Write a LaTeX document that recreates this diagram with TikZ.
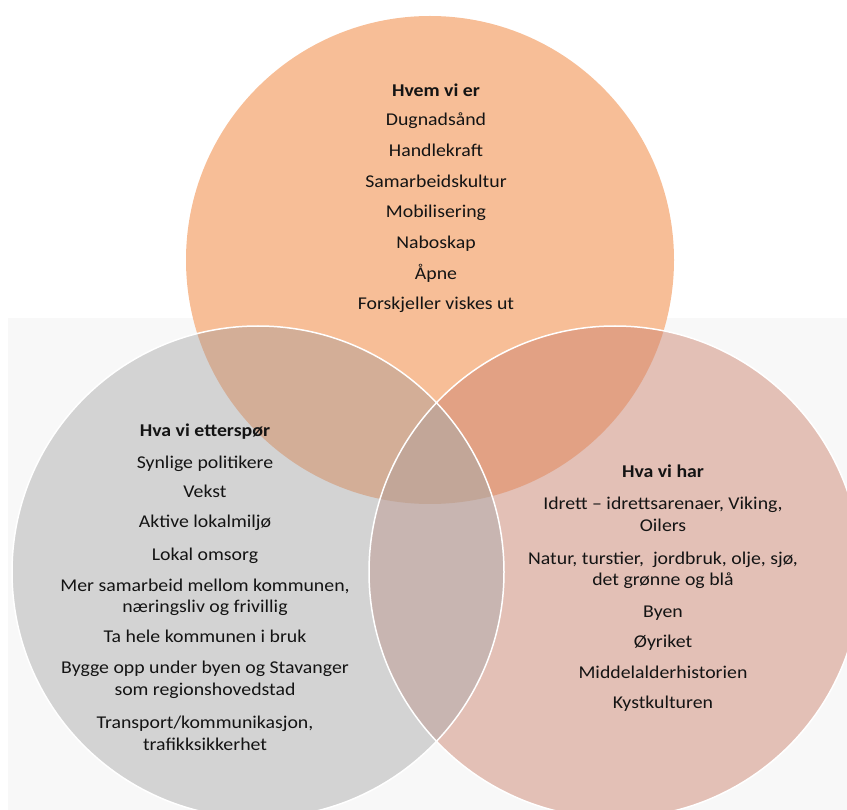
\documentclass[tikz,border=0pt]{standalone}
\usepackage{fontspec}
\setmainfont{Carlito}[FakeStretch=1.1]
\definecolor{bgc}{HTML}{F8F8F8}
\definecolor{cTop}{HTML}{F7BE97}
\definecolor{cLeft}{HTML}{D3D3D3}
\definecolor{cRight}{HTML}{E3C0B6}
\definecolor{cTL}{HTML}{D3AE97}
\definecolor{cTR}{HTML}{E2A184}
\definecolor{cLR}{HTML}{C8B5B1}
\definecolor{cAll}{HTML}{C2A698}
\definecolor{txtc}{HTML}{141414}
\tikzset{
  txt/.style={anchor=base, text=txtc, inner sep=0pt, font=\fontsize{18}{22}\selectfont},
  ttl/.style={anchor=base, text=txtc, inner sep=0pt, font=\fontsize{18}{22}\selectfont\bfseries},
  rim/.style={draw=white, line width=1.5pt}
}
\begin{document}
\begin{tikzpicture}[x=1pt,y=-1pt]
\useasboundingbox (0,0) rectangle (847,810);
\clip (0,0) rectangle (847,810);
\fill[bgc] (8,318) rectangle (847,810);
\def\CT{(430,260) circle[radius=244]}
\def\CL{(258,572) circle[radius=246]}
\def\CR{(615,572) circle[radius=246]}
\fill[cTop] \CT;
\fill[cLeft] \CL;
\fill[cRight] \CR;
\begin{scope}\clip \CT; \fill[cTL] \CL; \end{scope}
\begin{scope}\clip \CT; \fill[cTR] \CR; \end{scope}
\begin{scope}\clip \CL; \fill[cLR] \CR; \end{scope}
\begin{scope}\clip \CT; \clip \CL; \fill[cAll] \CR; \end{scope}
\draw[rim] \CL;
\draw[rim] \CR;
% top circle
\node[ttl] (t0) at (436,97) {Hvem vi er};
\node[txt] (t1) at (436,126) {Dugnadsånd};
\node[txt] (t2) at (436,157) {Handlekraft};
\node[txt] (t3) at (436,188) {Samarbeidskultur};
\node[txt] (t4) at (436,218) {Mobilisering};
\node[txt] (t5) at (436,249) {Naboskap};
\node[txt] (t6) at (436,280) {Åpne};
\node[txt] (t7) at (436,310) {Forskjeller viskes ut};
% left circle
\node[ttl] (l0) at (205,437) {Hva vi etterspør};
\node[txt] (l1) at (205,468) {Synlige politikere};
\node[txt] (l2) at (205,498) {Vekst};
\node[txt] (l3) at (205,528) {Aktive lokalmiljø};
\node[txt] (l4) at (205,560) {Lokal omsorg};
\node[txt] (l5) at (205,591) {Mer samarbeid mellom kommunen,};
\node[txt] (l6) at (205,612) {næringsliv og frivillig};
\node[txt] (l7) at (205,642) {Ta hele kommunen i bruk};
\node[txt] (l8) at (205,673) {Bygge opp under byen og Stavanger};
\node[txt] (l9) at (205,695) {som regionshovedstad};
\node[txt] (l10) at (205,728) {Transport/kommunikasjon,};
\node[txt] (l11) at (205,750) {trafikksikkerhet};
% right circle
\node[ttl] (r0) at (663,478) {Hva vi har};
\node[txt] (r1) at (663,510) {Idrett – idrettsarenaer, Viking,};
\node[txt] (r2) at (663,532) {Oilers};
\node[txt] (r3) at (663,565) {Natur, turstier,\ \ jordbruk, olje, sjø,};
\node[txt] (r4) at (663,585) {det grønne og blå};
\node[txt] (r5) at (663,617) {Byen};
\node[txt] (r6) at (663,647) {Øyriket};
\node[txt] (r7) at (663,678) {Middelalderhistorien};
\node[txt] (r8) at (663,708) {Kystkulturen};
\end{tikzpicture}
\end{document}
